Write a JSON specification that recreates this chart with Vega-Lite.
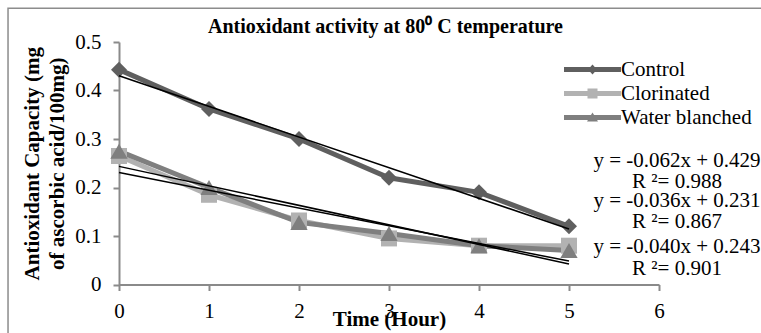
{
  "$schema": "https://vega.github.io/schema/vega-lite/v6.json",
  "width": 540,
  "height": 242.5,
  "autosize": {"type": "none"},
  "padding": {"left": 119, "top": 42, "right": 102, "bottom": 48.5},
  "background": "white",
  "config": {
    "view": {"stroke": null},
    "font": "Liberation Serif",
    "text": {"font": "Liberation Serif"},
    "axis": {"labelFont": "Liberation Serif", "titleFont": "Liberation Serif"},
    "legend": {
      "orient": "none",
      "legendX": 463,
      "legendY": 17,
      "title": null,
      "padding": 0,
      "labelFont": "Liberation Serif",
      "labelFontSize": 21,
      "labelColor": "black",
      "labelLimit": 0,
      "labelOffset": 18,
      "symbolSize": 100,
      "symbolStrokeWidth": 0,
      "symbolOpacity": 1,
      "rowPadding": 2
    }
  },
  "title": {
    "text": "Antioxidant activity at 80⁰ C temperature",
    "font": "Liberation Serif",
    "fontSize": 20,
    "fontWeight": "bold",
    "color": "black",
    "anchor": "middle",
    "frame": "group",
    "baseline": "alphabetic",
    "offset": -45,
    "dx": -3.5
  },
  "datasets": {
    "measurements": [
      {"series": "Clorinated", "time": 0, "value": 0.265},
      {"series": "Clorinated", "time": 1, "value": 0.185},
      {"series": "Clorinated", "time": 2, "value": 0.132},
      {"series": "Clorinated", "time": 3, "value": 0.095},
      {"series": "Clorinated", "time": 4, "value": 0.08},
      {"series": "Clorinated", "time": 5, "value": 0.08},
      {"series": "Water blanched", "time": 0, "value": 0.275},
      {"series": "Water blanched", "time": 1, "value": 0.2},
      {"series": "Water blanched", "time": 2, "value": 0.128},
      {"series": "Water blanched", "time": 3, "value": 0.105},
      {"series": "Water blanched", "time": 4, "value": 0.08},
      {"series": "Water blanched", "time": 5, "value": 0.07},
      {"series": "Control", "time": 0, "value": 0.443},
      {"series": "Control", "time": 1, "value": 0.362},
      {"series": "Control", "time": 2, "value": 0.3},
      {"series": "Control", "time": 3, "value": 0.22},
      {"series": "Control", "time": 4, "value": 0.19},
      {"series": "Control", "time": 5, "value": 0.12}
    ],
    "frame": [{"name": "frame"}],
    "legendrows": [],
    "eq1": [{"label": "y = -0.062x + 0.429\nR ²= 0.988"}],
    "eq2": [{"label": "y = -0.036x + 0.231\nR ²= 0.867"}],
    "eq3": [{"label": "y = -0.040x + 0.243\nR ²= 0.901"}]
  },
  "layer": [
    {
      "data": {"name": "measurements"},
      "mark": {"type": "line", "strokeWidth": 5},
      "encoding": {
        "x": {
          "field": "time",
          "type": "quantitative",
          "scale": {"domain": [0, 6], "nice": false, "zero": false},
          "axis": {
            "values": [0, 1, 2, 3, 4, 5, 6],
            "labelExpr": "format(datum.value, '~g')",
            "grid": false,
            "domainColor": "#8a8a8a",
            "domainWidth": 2,
            "tickColor": "#8a8a8a",
            "tickWidth": 2,
            "tickSize": 6,
            "labelFont": "Liberation Serif",
            "labelFontSize": 21,
            "labelColor": "black",
            "labelPadding": 10,
            "labelFlush": false,
            "title": "Time (Hour)",
            "titleFont": "Liberation Serif",
            "titleFontSize": 21,
            "titleFontWeight": "bold",
            "titleColor": "black",
            "titleBaseline": "alphabetic",
            "titleY": 40.5
          }
        },
        "y": {
          "field": "value",
          "type": "quantitative",
          "scale": {"domain": [0, 0.5], "nice": false},
          "axis": {
            "values": [0, 0.1, 0.2, 0.3, 0.4, 0.5],
            "labelExpr": "format(datum.value, '~g')",
            "grid": false,
            "domainColor": "#8a8a8a",
            "domainWidth": 2,
            "tickColor": "#8a8a8a",
            "tickWidth": 2,
            "tickSize": 6,
            "labelFont": "Liberation Serif",
            "labelFontSize": 21,
            "labelColor": "black",
            "labelPadding": 12,
            "labelFlush": false,
            "title": ["Antioxidant Capacity (mg", "of ascorbic acid/100mg)"],
            "titleFont": "Liberation Serif",
            "titleFontSize": 21,
            "titleFontWeight": "bold",
            "titleColor": "black",
            "titleBaseline": "alphabetic",
            "titleLineHeight": 25,
            "titleAlign": "center",
            "titleX": -81,
            "titleY": 121.25
          }
        },
        "stroke": {
          "field": "series",
          "type": "nominal",
          "scale": {"domain": ["Water blanched", "Clorinated", "Control"], "range": ["#7f7f7f", "#b2b2b2", "#5f5f5f"]},
          "legend": null
        }
      }
    },
    {
      "data": {"name": "frame"},
      "mark": {"type": "rect", "fillOpacity": 0, "stroke": "#8c8c8c", "strokeWidth": 1.5},
      "encoding": {
        "x": {"datum": -1.233, "type": "quantitative"},
        "x2": {"datum": 8},
        "y": {"datum": 0.5695, "type": "quantitative"},
        "y2": {"datum": -0.3}
      }
    },
    {
      "data": {"name": "measurements"},
      "transform": [{"filter": "datum.series === 'Clorinated'"}],
      "mark": {"type": "point", "filled": true, "opacity": 1, "size": 256, "shape": "square", "color": "#b2b2b2"},
      "encoding": {
        "x": {"field": "time", "type": "quantitative"},
        "y": {"field": "value", "type": "quantitative"}
      }
    },
    {
      "data": {"name": "measurements"},
      "transform": [{"filter": "datum.series === 'Water blanched'"}],
      "mark": {"type": "point", "filled": true, "opacity": 1, "size": 300, "shape": "triangle-up", "color": "#7f7f7f"},
      "encoding": {
        "x": {"field": "time", "type": "quantitative"},
        "y": {"field": "value", "type": "quantitative"}
      }
    },
    {
      "data": {"name": "measurements"},
      "transform": [{"filter": "datum.series === 'Control'"}],
      "mark": {"type": "point", "filled": true, "opacity": 1, "size": 256, "shape": "diamond", "color": "#5f5f5f"},
      "encoding": {
        "x": {"field": "time", "type": "quantitative"},
        "y": {"field": "value", "type": "quantitative"}
      }
    },
    {
      "data": {"name": "measurements"},
      "transform": [
        {"regression": "value", "on": "time", "groupby": ["series"], "extent": [0, 5]}
      ],
      "mark": {"type": "line", "color": "black", "strokeWidth": 1.5},
      "encoding": {
        "x": {"field": "time", "type": "quantitative"},
        "y": {"field": "value", "type": "quantitative"},
        "detail": {"field": "series", "type": "nominal"}
      }
    },
    {
      "data": {"name": "legendrows"},
      "mark": {"type": "point", "filled": true, "opacity": 1},
      "encoding": {
        "x": {"field": "time", "type": "quantitative"},
        "y": {"field": "value", "type": "quantitative"},
        "color": {
          "field": "series",
          "type": "nominal",
          "scale": {"domain": ["Control", "Clorinated", "Water blanched"], "range": ["#5f5f5f", "#b2b2b2", "#7f7f7f"]}
        },
        "shape": {
          "field": "series",
          "type": "nominal",
          "scale": {
            "domain": ["Control", "Clorinated", "Water blanched"],
            "range": [
              "M-5.7,-0.5H5.7V0.5H-5.7Z M0,-1L0.9,0L0,1L-0.9,0Z",
              "M-5.7,-0.5H5.7V0.5H-5.7Z M-1,-1H1V1H-1Z",
              "M-5.7,-0.5H5.7V0.5H-5.7Z M0,-1L1.1,0.8H-1.1Z"
            ]
          }
        }
      }
    },
    {
      "data": {"name": "eq1"},
      "mark": {"type": "text", "align": "center", "baseline": "alphabetic", "fontSize": 21, "font": "Liberation Serif", "lineBreak": "\n", "lineHeight": 21, "fill": "black"},
      "encoding": {
        "x": {"datum": 6.2, "type": "quantitative"},
        "y": {"datum": 0.2423, "type": "quantitative"},
        "text": {"field": "label", "type": "nominal"}
      }
    },
    {
      "data": {"name": "eq2"},
      "mark": {"type": "text", "align": "center", "baseline": "alphabetic", "fontSize": 21, "font": "Liberation Serif", "lineBreak": "\n", "lineHeight": 21, "fill": "black"},
      "encoding": {
        "x": {"datum": 6.2, "type": "quantitative"},
        "y": {"datum": 0.1598, "type": "quantitative"},
        "text": {"field": "label", "type": "nominal"}
      }
    },
    {
      "data": {"name": "eq3"},
      "mark": {"type": "text", "align": "center", "baseline": "alphabetic", "fontSize": 21, "font": "Liberation Serif", "lineBreak": "\n", "lineHeight": 22, "fill": "black"},
      "encoding": {
        "x": {"datum": 6.2, "type": "quantitative"},
        "y": {"datum": 0.0649, "type": "quantitative"},
        "text": {"field": "label", "type": "nominal"}
      }
    }
  ]
}
